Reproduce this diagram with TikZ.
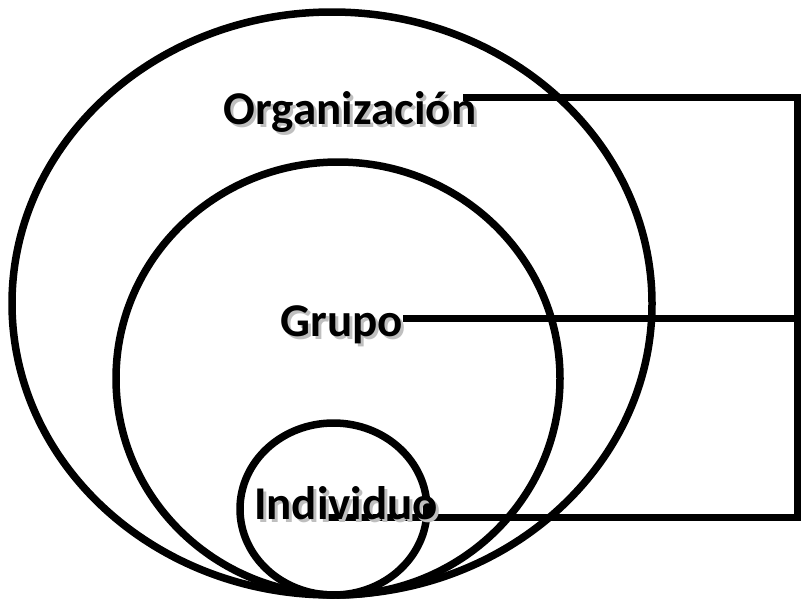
\documentclass[tikz,border=0pt]{standalone}
\usepackage{fontspec}
\setmainfont{Carlito}
\usepackage{tikz}

\newcommand{\shtext}[1]{\makebox[0pt][l]{\hspace{3pt}\raisebox{-3pt}{\textcolor{black!25}{#1}}}#1}
\tikzset{
  ring/.style={line width=7.5pt},
  level/.style={font=\fontsize{47}{52}\selectfont\bfseries, inner sep=0pt},
  link/.style={line width=7pt}
}

\begin{document}
\begin{tikzpicture}[x=1pt,y=-1pt]
\useasboundingbox (0,0) rectangle (802,603);

%Nested circles
\draw[ring] (332,303.5) ellipse [x radius=320, y radius=291.5];
\draw[ring] (338,378.5) ellipse [x radius=222, y radius=216.5];
\draw[ring] (333.5,509) ellipse [x radius=93.5, y radius=86];

%Right bracket
\coordinate (top) at (797,97);
\coordinate (mid) at (797,318);
\coordinate (bot) at (797,517);
\draw[link, line cap=rect] (top)--(bot);

%Levels
\node[level] (org) at (350,113){\shtext{Organización}};
\node[level] (grp) at (342,326){\shtext{Grupo}};
\draw[link] (463,97)--(top);
\draw[link] (grp.east |- mid)--(mid);
\draw[link] (327,517)--(bot);
\node[level] (ind) at (346,505){\shtext{Individuo}};

\end{tikzpicture}
\end{document}
